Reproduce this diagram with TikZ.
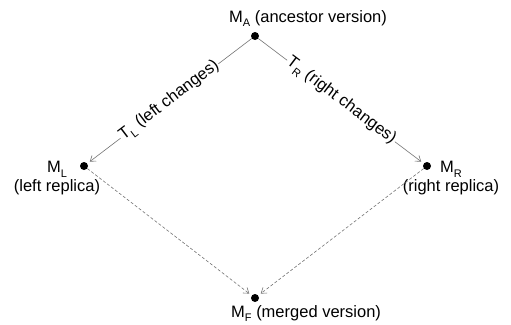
\documentclass[tikz,border=0pt]{standalone}
\usepackage{fontspec}
\setmainfont{Liberation Sans}
\usetikzlibrary{arrows.meta}
\newcommand{\lsub}[1]{\raisebox{-0.28em}{\fontsize{11}{11}\selectfont #1}}
\begin{document}
\begin{tikzpicture}[x=1pt,y=-1pt,
  dot/.style={circle,fill=black,inner sep=0pt,minimum size=8pt},
  lbl/.style={font=\fontsize{16.5}{18.5}\selectfont,inner sep=0pt,align=center},
  trans/.style={draw=black!55,line width=0.6pt,-{Straight Barb[length=5pt,width=7pt]},shorten >=3pt},
  merge/.style={trans,dash pattern=on 3pt off 2pt},
  elbl/.style={font=\fontsize{16.5}{18.5}\selectfont,midway,sloped,fill=white,inner sep=1pt}]
\useasboundingbox (0,0) rectangle (511,324);
\node[dot] (A) at (255,36) {};
\node[dot] (L) at (84,166) {};
\node[dot] (R) at (427,166) {};
\node[dot] (F) at (255,298) {};
\node[lbl,anchor=base west] (la) at (229,22) {M\lsub{A} (ancestor version)};
\node[lbl,anchor=base west] (lf) at (231,317) {M\lsub{F} (merged version)};
\node[lbl] (ll) at (57,178) {M\lsub{L}\\(left replica)};
\node[lbl] (lr) at (451,178) {M\lsub{R}\\(right replica)};
\draw[trans] (A) -- (L) node[elbl] {T\lsub{L} (left changes)};
\draw[trans] (A) -- (R) node[elbl] {T\lsub{R} (right changes)};
\draw[merge] (L) -- (F);
\draw[merge] (R) -- (F);
\end{tikzpicture}
\end{document}
